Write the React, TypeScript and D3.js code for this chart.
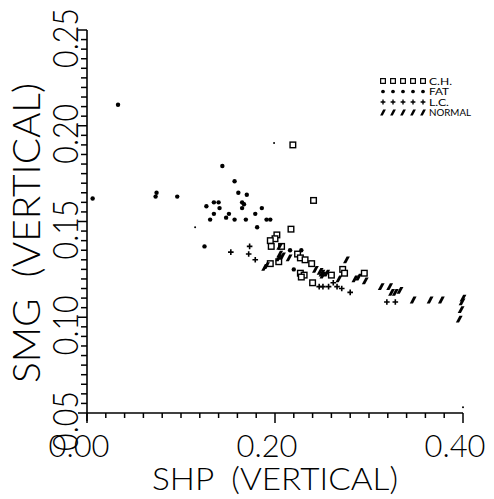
import React from "react";
import * as d3 from "d3";

const chData: [number, number][] = [
  [0.219, 0.190], [0.241, 0.161], [0.217, 0.146], [0.202, 0.143], [0.200, 0.141],
  [0.195, 0.140], [0.196, 0.137], [0.207, 0.137], [0.195, 0.128], [0.204, 0.129],
  [0.224, 0.133], [0.227, 0.131], [0.232, 0.130], [0.227, 0.123], [0.231, 0.122],
  [0.228, 0.121], [0.239, 0.128], [0.240, 0.118], [0.260, 0.122], [0.272, 0.125],
  [0.274, 0.123], [0.295, 0.123],
];

const fatData: [number, number][] = [
  [0.033, 0.211], [0.006, 0.162], [0.074, 0.165], [0.073, 0.163], [0.096, 0.163],
  [0.144, 0.179], [0.157, 0.171], [0.135, 0.160], [0.140, 0.160], [0.127, 0.158],
  [0.141, 0.157], [0.135, 0.154], [0.151, 0.154], [0.131, 0.151], [0.148, 0.152],
  [0.157, 0.151], [0.125, 0.137], [0.161, 0.165], [0.170, 0.164], [0.165, 0.160],
  [0.167, 0.159], [0.165, 0.157], [0.169, 0.151], [0.179, 0.154], [0.186, 0.157],
  [0.191, 0.151], [0.195, 0.151], [0.181, 0.147], [0.216, 0.135], [0.228, 0.135],
  [0.220, 0.125],
];

const lcData: [number, number][] = [
  [0.153, 0.134], [0.173, 0.137], [0.172, 0.133], [0.179, 0.130], [0.247, 0.116],
  [0.251, 0.116], [0.257, 0.116], [0.262, 0.118], [0.266, 0.116], [0.271, 0.115],
  [0.280, 0.113], [0.319, 0.108], [0.328, 0.108],
];

const normalData: [number, number][] = [
  [0.205, 0.137], [0.205, 0.133], [0.204, 0.131], [0.208, 0.132], [0.215, 0.131],
  [0.191, 0.127], [0.189, 0.126], [0.243, 0.125], [0.248, 0.124], [0.250, 0.123],
  [0.255, 0.123], [0.251, 0.122], [0.268, 0.120], [0.276, 0.130], [0.285, 0.120],
  [0.289, 0.121], [0.296, 0.119], [0.313, 0.116], [0.322, 0.116], [0.324, 0.113],
  [0.328, 0.113], [0.333, 0.114], [0.347, 0.109], [0.365, 0.109], [0.377, 0.109],
  [0.400, 0.110], [0.399, 0.108], [0.398, 0.104], [0.396, 0.099],
];

const strayMarks: [number, number][] = [
  [0.400, 0.053], [0.115, 0.147], [0.199, 0.191],
];

const xTickLabels = ["0.00", "0.20", "0.40"];
const yTickLabels = ["0.05", "0.10", "0.15", "0.20", "0.25"];
const legendLabels = ["C.H.", "FAT", "L.C.", "NORMAL"];
const xTitle = "SHP  (VERTICAL)";
const yTitle = "SMG  (VERTICAL)";

const FONT = "Lato, Roboto, 'Liberation Sans', Arial, sans-serif";
const TEXT_W = 300;
const LEGEND_TEXT_LEN = [23, 20, 20, 42];

type Kind = "ch" | "fat" | "lc" | "normal";

function Marker({ kind, x, y, s = 1 }: { kind: Kind; x: number; y: number; s?: number }) {
  if (kind === "ch") {
    const h = 2.8 * s;
    return <rect x={x - h} y={y - h} width={2 * h} height={2 * h} fill="#fff" stroke="#000" strokeWidth={1.4 * s} />;
  }
  if (kind === "fat") {
    return <circle cx={x} cy={y} r={2.2 * s} fill="#000" />;
  }
  if (kind === "lc") {
    const a = 2.8 * s;
    return (
      <path d={`M${x - a},${y}H${x + a}M${x},${y - a}V${y + a}`} stroke="#000" strokeWidth={1.6 * s} fill="none" />
    );
  }
  const p = [
    [-3.4, 3.4], [-0.2, 3.4], [3.4, -3.4], [0.2, -3.4],
  ].map(([dx, dy]) => `${x + dx * s},${y + dy * s}`).join(" ");
  return <polygon points={p} fill="#000" />;
}

export default function App() {
  const x = d3.scaleLinear().domain([0, 0.4]).range([87, 463]);
  const y = d3.scaleLinear().domain([0.05, 0.25]).range([413, 30]);

  const xTicks = d3.range(0, 21).map((i) => i * 0.02);
  const yTicks = d3.range(0, 41).map((i) => 0.05 + i * 0.005);

  const series: { kind: Kind; data: [number, number][] }[] = [
    { kind: "ch", data: chData },
    { kind: "fat", data: fatData },
    { kind: "lc", data: lcData },
    { kind: "normal", data: normalData },
  ];
  const legendKinds: Kind[] = ["ch", "fat", "lc", "normal"];

  return (
    <svg
      width={494}
      height={499}
      style={{ position: "absolute", left: 0, top: 0, background: "#fff" }}
      fontFamily={FONT}
      fontWeight={TEXT_W}
    >
      <rect x={0} y={0} width={494} height={499} fill="#fff" />
      {/* axes */}
      <line x1={x(0)} x2={x(0.4)} y1={y(0.05)} y2={y(0.05)} stroke="#000" strokeWidth={1.6} />
      <line x1={x(0)} x2={x(0)} y1={y(0.05) + 8} y2={y(0.25)} stroke="#000" strokeWidth={1.6} />
      {xTicks.map((t, i) => {
        const major = i % 10 === 0;
        return (
          <line key={`xt${i}`} x1={x(t)} x2={x(t)} y1={y(0.05)} y2={y(0.05) + (major ? 10 : 5)} stroke="#000" strokeWidth={1.5} />
        );
      })}
      {yTicks.map((t, i) => {
        const major = i % 10 === 0;
        return (
          <line key={`yt${i}`} x1={x(0)} x2={x(0) - (major ? 9 : 6)} y1={y(t)} y2={y(t)} stroke="#000" strokeWidth={1.5} />
        );
      })}
      {xTickLabels.map((l) => (
        <text key={l} x={x(+l) - 8} y={457} fontSize={32} textAnchor="middle" textLength={61} lengthAdjust="spacingAndGlyphs">
          {l}
        </text>
      ))}
      {yTickLabels.map((l) => (
        <text
          key={l}
          transform={`translate(78,${y(+l) + 8}) rotate(-90)`}
          fontSize={36}
          textAnchor="middle"
          textLength={60}
          lengthAdjust="spacingAndGlyphs"
        >
          {l}
        </text>
      ))}
      <text
        x={275}
        y={490}
        fontSize={32}
        textAnchor="middle"
        textLength={246}
        lengthAdjust="spacingAndGlyphs"
        style={{ whiteSpace: "pre" }}
      >
        {xTitle}
      </text>
      <text
        transform={`translate(40,233) rotate(-90)`}
        fontSize={37}
        textAnchor="middle"
        textLength={300}
        lengthAdjust="spacingAndGlyphs"
        style={{ whiteSpace: "pre" }}
      >
        {yTitle}
      </text>
      {/* data */}
      {series.map((s) =>
        s.data.map((d, i) => <Marker key={`${s.kind}${i}`} kind={s.kind} x={x(d[0])} y={y(d[1])} />)
      )}
      {strayMarks.map((d, i) => (
        <circle key={`st${i}`} cx={x(d[0])} cy={y(d[1])} r={1} fill="#000" />
      ))}
      {/* legend */}
      {legendLabels.map((l, r) => {
        const ly = 81 + r * 10.5;
        return (
          <g key={l}>
            {d3.range(5).map((k) => (
              <Marker key={k} kind={legendKinds[r]} x={383 + k * 10} y={ly} s={0.85} />
            ))}
            <text
              x={429}
              y={ly + 3.8}
              fontSize={10}
              fontWeight={400}
              textLength={LEGEND_TEXT_LEN[r]}
              lengthAdjust="spacingAndGlyphs"
            >
              {l}
            </text>
          </g>
        );
      })}
    </svg>
  );
}
